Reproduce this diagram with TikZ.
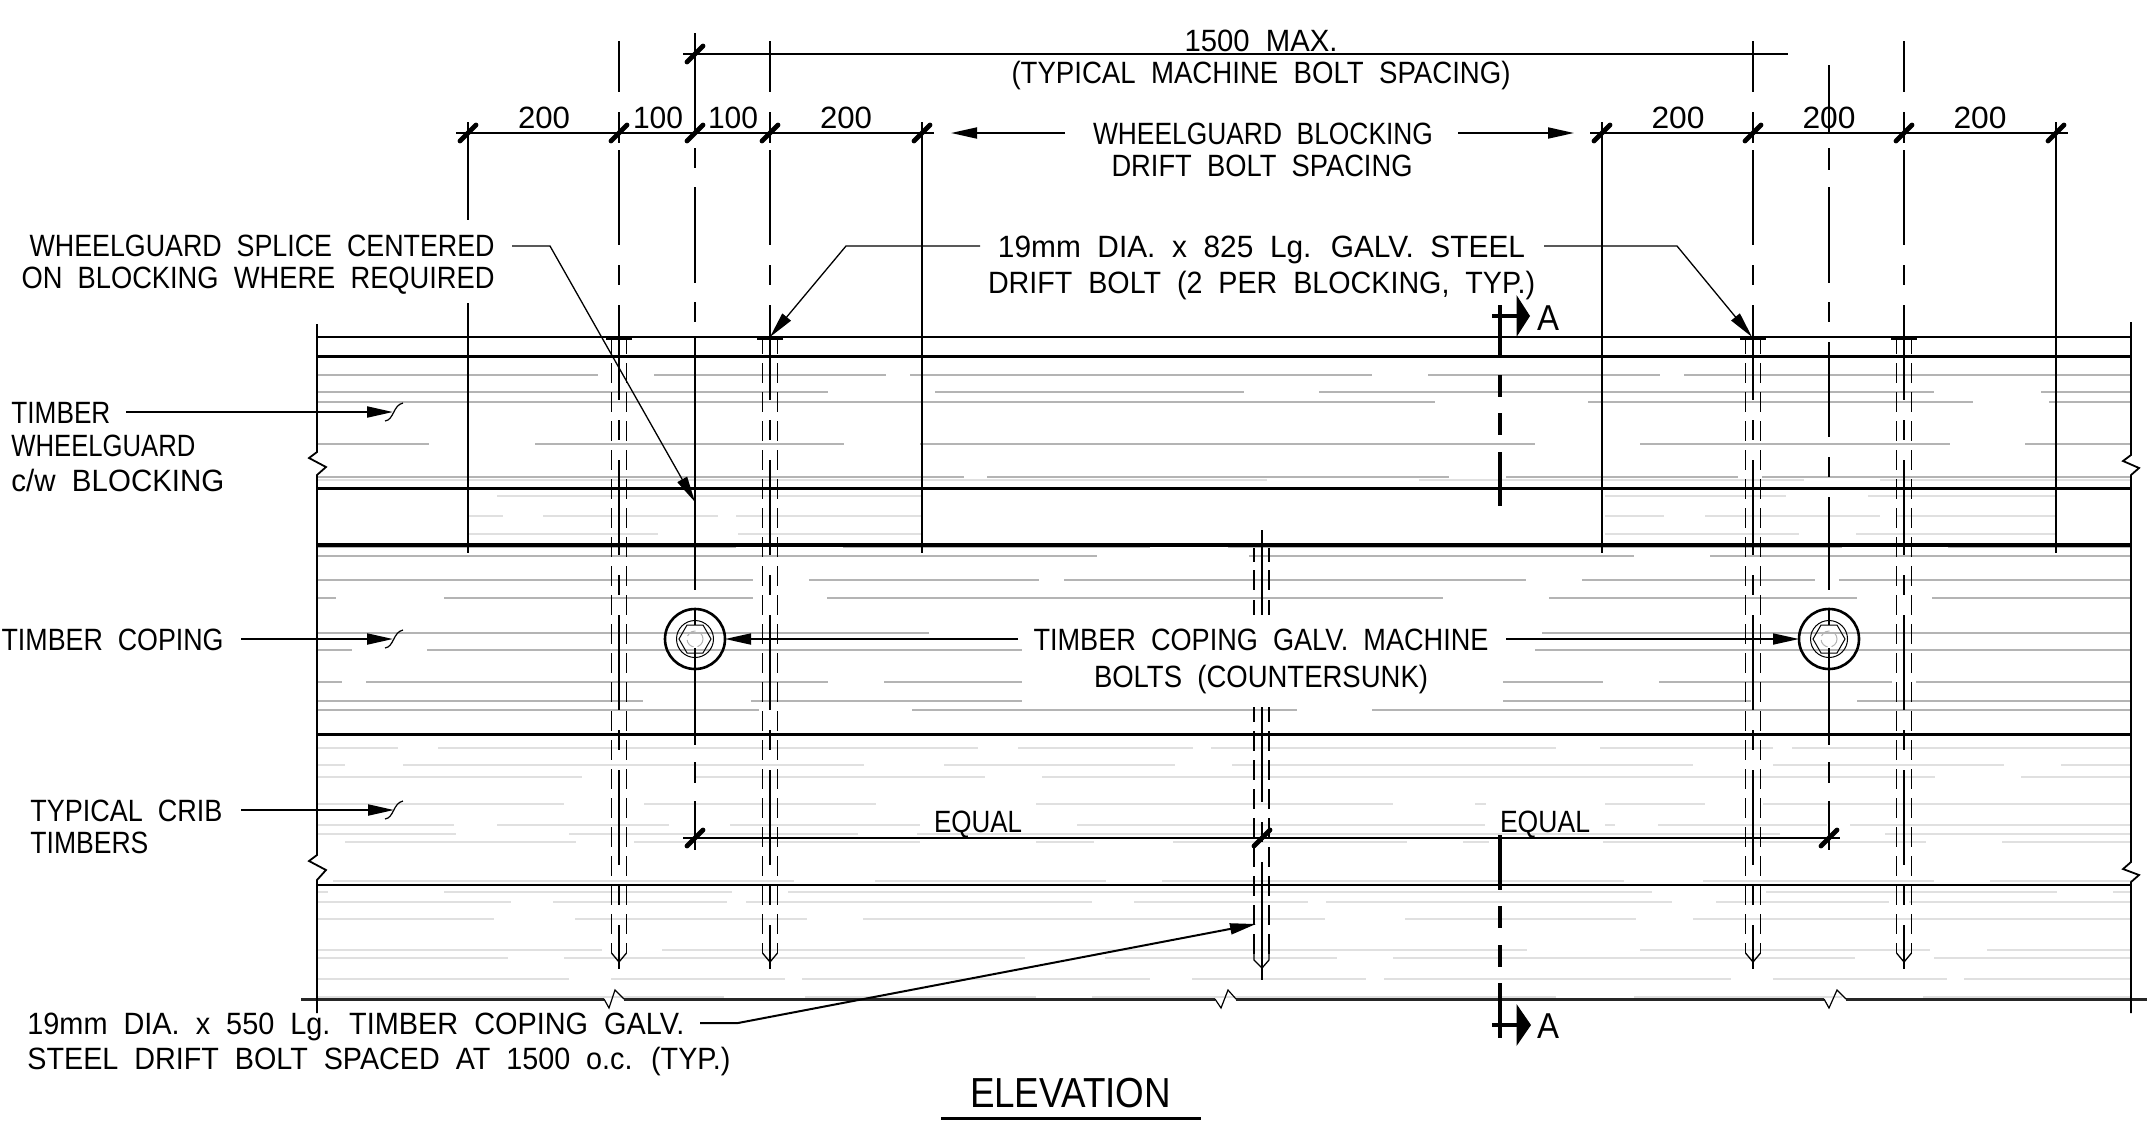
\documentclass[tikz,border=0pt]{standalone}
\usepackage{fontspec}
\usepackage{graphicx}
\usetikzlibrary{arrows.meta}
\setmainfont{Liberation Sans}[FakeStretch=0.85,WordSpace=2]
\definecolor{hatchdark}{HTML}{B4B4B4}
\definecolor{hatchlight}{HTML}{E0E0E0}
\tikzset{
  hd/.style={draw=hatchdark,line width=1pt},
  hl/.style={draw=hatchlight,line width=1.2pt},
  thinline/.style={line width=0.65pt},
  medline/.style={line width=0.9pt},
  heavy/.style={line width=1.5pt},
  tickmark/.style={line width=2.4pt,line cap=round},
  lbl/.style={inner sep=0pt,text height=11pt,text depth=0pt,font=\fontsize{15.4pt}{15.4pt}\selectfont},
  leadtip/.style={-{Triangle[length=13pt,width=5.5pt]}},
  centredash/.style={thinline,dash pattern=on 47.5pt off 10pt on 10pt off 10pt},
  sidedash/.style={thinline,dash pattern=on 9.75pt off 4.75pt,dash phase=2.5pt},
  cutdash/.style={line width=1.7pt},
}
\newcommand\fitw[2]{\resizebox{0.5\dimexpr #1pt\relax}{\height}{#2}}
\newcommand\hatchrow[3]{\foreach \a/\b in {#3}{\draw[#1] (\a,#2)--(\b,#2);}}
\newcommand\ticks[2]{\foreach \t in {#2}{\draw[tickmark] (\t-8,#1+8)--(\t+8,#1-8);}}
\newcommand\tmark[1]{\draw[line width=0.6pt] (385,#1+9) .. controls (394,#1+8) and (393,#1-7) .. (403,#1-9);}
\begin{document}
\begin{tikzpicture}[x=0.5pt,y=-0.5pt]
\useasboundingbox (0,0) rectangle (2156,1120);
% ---- hatching
\hatchrow{hd}{375}{318/598,654/886,910/1372,1428/1660,1684/2131}
\hatchrow{hd}{392}{318/828,935/1244,1319/1934,2041/2131}
\hatchrow{hd}{402}{318/1435,1588/1973,2049/2131}
\hatchrow{hd}{444}{318/429,535/844,920/1535,1640/1950,2025/2131}
\hatchrow{hd}{477}{318/964,987/1449,1506/1738,1762/2131}
\hatchrow{hl}{480}{318/1267,1419/1804,1880/2131}
\hatchrow{hl}{496}{497/921,1605/1786,1868/2055}
\hatchrow{hl}{516}{468/503,543/718,736/921,1605/1664,1705/1880,1897/2055}
\hatchrow{hl}{534}{468/658,738/921,1605/1799,1856/2055}
\hatchrow{hd}{547}{318/736,843/1150,1228/1842,1948/2131}
\hatchrow{hd}{556}{318/1097,1249/1634,1710/2131}
\hatchrow{hd}{580}{318/753,809/1039,1064/1526,1582/1815,1839/2131}
\hatchrow{hd}{598}{318/336,444/753,827/1443,1549/1857,1932/2131}
\hatchrow{hd}{633}{318/929,1542/2131}
\hatchrow{hd}{650}{318/352,427/1022,1535/2131}
\hatchrow{hd}{682}{318/342,366/828,884/1022,1503/1603,1659/1892,1916/2131}
\hatchrow{hd}{701}{318/643,751/1022,1503/1751,1857/2131}
\hatchrow{hd}{710}{318/759,912/1297,1372/2131}
\hatchrow{hl}{748}{318/398,438/978,1018/1193,1211/1556,1600/1773,1792/2131}
\hatchrow{hl}{765}{318/345,403/864,944/1175,1232/1693,1773/2004,2061/2131}
\hatchrow{hl}{777}{318/582,695/985,1042/1935,2021/2131}
\hatchrow{hl}{804}{318/564,644/876,1036/1393,1475/1486,1605/1705,1763/2131}
\hatchrow{hl}{825}{318/454,497/669,730/920,1077/1485,1605/1615,1658/1827,1850/2131}
\hatchrow{hl}{834}{318/456,569/858,917/1780,1885/2131}
\hatchrow{hl}{842}{345/576,634/920,1036/1094,1173/1407,1463/1489,1603/1926,2002/2131}
\hatchrow{hl}{881}{333/794,875/1106,1162/1624,1703/1934,1990/2131}
\hatchrow{hl}{892}{318/328,444/732,788/1652,1766/2057,2113/2131}
\hatchrow{hl}{902}{318/511,553/727,746/1092,1134/1308,1326/1672,1716/1889,1909/2131}
\hatchrow{hl}{919}{318/494,575/807,863/1325,1405/1636,1693/2131}
\hatchrow{hl}{950}{318/602,662/1527,1640/1930,1987/2131}
\hatchrow{hl}{958}{318/508,564/1025,1105/1337,1393/1855,1934/2131}
\hatchrow{hl}{979}{318/569,611/785,802/1150,1192/1366,1384/1731,1773/1947,1964/2131}
\hatchrow{hl}{997}{318/724,805/1036,1092/1556,1634/1842,1923/2131}
% ---- timber edges
\draw[line width=1pt] (317,337)--(2131,337);
\draw[heavy] (317,356)--(2131,356);
\draw[heavy] (317,488)--(2131,488);
\draw[line width=1.8pt] (317,545)--(2131,545);
\draw[heavy] (317,734)--(2131,734);
\draw[line width=1.3pt] (317,885)--(2131,885);
\draw[line width=1.5pt,black!85] (301,999)--(604,999) (624,999)--(1215,999) (1236,999)--(1824,999) (1846,999)--(2147,999);
\draw[line width=0.6pt] (604,999)--(609,1008)--(615,990)--(624,999);
\draw[line width=0.6pt] (1215,999)--(1221,1008)--(1228,990)--(1236,999);
\draw[line width=0.6pt] (1824,999)--(1829,1008)--(1837,990)--(1846,999);
% ---- end walls
\draw[medline] (317,324)--(317,452)--(309,458)--(326,467)--(317,475)--(317,855)--(309,861)--(326,870)--(317,880)--(317,1013);
\draw[medline] (2131,322)--(2131,455)--(2123,461)--(2139,468)--(2131,475)--(2131,862)--(2123,869)--(2139,875)--(2131,882)--(2131,1013);
% ---- blocking extension lines
\foreach \x in {922,1602,2056}{\draw[medline] (\x,122)--(\x,553);}
\draw[medline] (468,122)--(468,220) (468,303)--(468,553);
% ---- drift bolts through the blocking
\foreach \x in {619,770,1753,1904}{
  \draw[thinline] (\x,41)--(\x,92) (\x,112)--(\x,143);
  \draw[centredash] (\x,150)--(\x,969);
  \draw[line width=1.3pt] (\x-13,339)--(\x+13,339);
  \draw[sidedash] (\x-7.5,339)--(\x-7.5,953) (\x+7.5,339)--(\x+7.5,953);
  \draw[thinline] (\x-7.5,953)--(\x,962)--(\x+7.5,953);
}
% ---- coping drift bolt
\draw[thinline] (1262,530)--(1262,615) (1254,548)--(1254,562) (1254,570)--(1254,590) (1254,600)--(1254,615) (1269,548)--(1269,562) (1269,570)--(1269,590) (1269,600)--(1269,615);
\draw[line width=1.3pt] (1249,546)--(1275,546);
\draw[centredash] (1262,707)--(1262,957);
\draw[thinline] (1262,957)--(1262,980);
\draw[sidedash] (1254,707)--(1254,960) (1269,707)--(1269,960);
\draw[thinline] (1254,945)--(1254,960)--(1262,968)--(1269,960)--(1269,945);
% ---- machine bolt centre lines
\draw[medline] (695,33)--(695,134) (695,148)--(695,168) (695,187)--(695,283) (695,302)--(695,322) (695,337)--(695,488);
\draw[thinline] (695,488)--(695,590) (695,668)--(695,745) (695,762)--(695,783) (695,801)--(695,850);
\draw[thinline] (1829,65)--(1829,134) (1829,148)--(1829,170) (1829,187)--(1829,283) (1829,302)--(1829,322) (1829,342)--(1829,437) (1829,457)--(1829,477) (1829,497)--(1829,590) (1829,669)--(1829,745) (1829,762)--(1829,783) (1829,801)--(1829,850);
% ---- machine bolts
\foreach \x in {695,1829}{
  \draw[line width=1.3pt] (\x,639) circle[radius=30];
  \draw[line width=0.5pt] (\x,639) circle[radius=18.5];
  \draw[line width=0.5pt] (\x-16,639)--(\x-8,625)--(\x+8,625)--(\x+16,639)--(\x+8,653)--(\x-8,653)--cycle;
  \draw[line width=0.5pt,black!30,dash pattern=on 5pt off 2pt] (\x,639) circle[radius=8];
  \draw[thinline] (\x,609)--(\x,625) (\x,648)--(\x,669);
}
% ---- section cut line
\draw[cutdash] (1500,305)--(1500,358) (1500,375)--(1500,397) (1500,413)--(1500,435) (1500,452)--(1500,506);
\draw[cutdash] (1500,835)--(1500,890) (1500,906)--(1500,928) (1500,945)--(1500,967) (1500,983)--(1500,1038);
\draw[line width=1.6pt] (1492,316)--(1520,316) (1492,1025)--(1520,1025);
\fill (1516.5,295)--(1530,316)--(1516.5,337)--cycle;
\fill (1516.5,1004)--(1531,1025)--(1516.5,1046)--cycle;
% ---- dimension lines
\draw[medline] (683,54)--(1788,54);
\draw[medline] (456,133)--(934,133);
\draw[medline] (1590,133)--(2068,133);
\draw[line width=1.2pt] (683,838)--(1840,838);
\ticks{54}{695}
\ticks{133}{468,619,695,770,922,1602,1753,1904,2056}
\ticks{838}{695,1262,1829}
% ---- labels
\node[lbl] (n1500) at (1261,40) {\fitw{153}{1500 MAX.}};
\node[lbl] (nspacing) at (1261,72) {\fitw{499}{(TYPICAL MACHINE BOLT SPACING)}};
\node[lbl] (d1) at (544,117) {\fitw{52}{200}};
\node[lbl] (d2) at (658,117) {\fitw{50}{100}};
\node[lbl] (d3) at (733,117) {\fitw{50}{100}};
\node[lbl] (d4) at (846,117) {\fitw{52}{200}};
\node[lbl] (d5) at (1678,117) {\fitw{53}{200}};
\node[lbl] (d6) at (1829,117) {\fitw{53}{200}};
\node[lbl] (d7) at (1980,117) {\fitw{53}{200}};
\node[lbl] (nblock) at (1263,133) {\fitw{340}{WHEELGUARD BLOCKING}};
\node[lbl] (nblock2) at (1262,165) {\fitw{301}{DRIFT BOLT SPACING}};
\node[lbl,anchor=east] (nsplice) at (495,245) {\fitw{465}{WHEELGUARD SPLICE CENTERED}};
\node[lbl,anchor=east] (nsplice2) at (495,277) {\fitw{473}{ON BLOCKING WHERE REQUIRED}};
\node[lbl] (ndrift) at (1261.5,246) {\fitw{527}{19mm DIA. x 825 Lg. GALV. STEEL}};
\node[lbl] (ndrift2) at (1261.5,282) {\fitw{547}{DRIFT BOLT (2 PER BLOCKING, TYP.)}};
\node[lbl,anchor=west] (nwheel) at (11,412) {\fitw{99}{TIMBER}};
\node[lbl,anchor=west] (nwheel2) at (11,445) {\fitw{184}{WHEELGUARD}};
\node[lbl,anchor=west] (nwheel3) at (11,480) {\fitw{213}{c/w BLOCKING}};
\node[lbl,anchor=east] (ncoping) at (224,639) {\fitw{222}{TIMBER COPING}};
\node[lbl,anchor=west] (ncrib) at (30,810) {\fitw{192}{TYPICAL CRIB}};
\node[lbl,anchor=west] (ncrib2) at (30,842) {\fitw{118}{TIMBERS}};
\node[lbl] (nmach) at (1261,639) {\fitw{455}{TIMBER COPING GALV. MACHINE}};
\node[lbl] (nmach2) at (1261,676) {\fitw{334}{BOLTS (COUNTERSUNK)}};
\node[lbl] (neq1) at (978,821) {\fitw{88}{EQUAL}};
\node[lbl] (neq2) at (1545,821) {\fitw{90}{EQUAL}};
\node[lbl,anchor=west] (nlow) at (27,1023) {\fitw{657}{19mm DIA. x 550 Lg. TIMBER COPING GALV.}};
\node[lbl,anchor=west] (nlow2) at (27,1058) {\fitw{703}{STEEL DRIFT BOLT SPACED AT 1500 o.c. (TYP.)}};
\node[inner sep=0pt,text height=13pt,text depth=0pt,font=\fontsize{18pt}{18pt}\selectfont] (ncutA) at (1548,317) {\fitw{22}{A}};
\node[inner sep=0pt,text height=13pt,text depth=0pt,font=\fontsize{18pt}{18pt}\selectfont] (ncutB) at (1548,1025) {\fitw{22}{A}};
\node[inner sep=0pt,text height=15pt,text depth=0pt,font=\fontsize{21pt}{21pt}\selectfont] (nelev) at (1070.5,1092) {\fitw{201}{ELEVATION}};
\draw[line width=1.6pt] (941,1118.5)--(1200.5,1118.5);
% ---- leaders
\coordinate (spliceA) at (512,246); \coordinate (spliceB) at (550,246); \coordinate (spliceT) at (695,502);
\coordinate (driftA) at (980,246); \coordinate (driftB) at (846,246); \coordinate (driftT) at (770,337);
\coordinate (driftC) at (1544,246); \coordinate (driftD) at (1677,246); \coordinate (driftU) at (1752,337);
\coordinate (lowA) at (700,1023); \coordinate (lowB) at (738,1023); \coordinate (lowT) at (1256,924);
\coordinate (wheelA) at (126,412); \coordinate (wheelT) at (393,412);
\coordinate (copA) at (241,639); \coordinate (copT) at (393,639);
\coordinate (cribA) at (241,810); \coordinate (cribT) at (394,810);
\coordinate (machA) at (1018,639); \coordinate (machT) at (725,639);
\coordinate (machB) at (1506,639); \coordinate (machU) at (1799,639);
\coordinate (blkA) at (1065,133); \coordinate (blkT) at (951,133);
\coordinate (blkB) at (1458,133); \coordinate (blkU) at (1574,133);
\draw[thinline,leadtip] (spliceA)--(spliceB)--(spliceT);
\draw[thinline,leadtip] (driftA)--(driftB)--(driftT);
\draw[thinline,leadtip] (driftC)--(driftD)--(driftU);
\draw[line width=1pt,leadtip] (lowA)--(lowB)--(lowT);
\draw[line width=1pt,leadtip] (wheelA)--(wheelT);
\draw[line width=1pt,leadtip] (copA)--(copT);
\draw[line width=1pt,leadtip] (cribA)--(cribT);
\draw[medline,leadtip] (machA)--(machT);
\draw[medline,leadtip] (machB)--(machU);
\draw[medline,leadtip] (blkA)--(blkT);
\draw[medline,leadtip] (blkB)--(blkU);
\tmark{412}
\tmark{639}
\tmark{810}
\end{tikzpicture}
\end{document}
